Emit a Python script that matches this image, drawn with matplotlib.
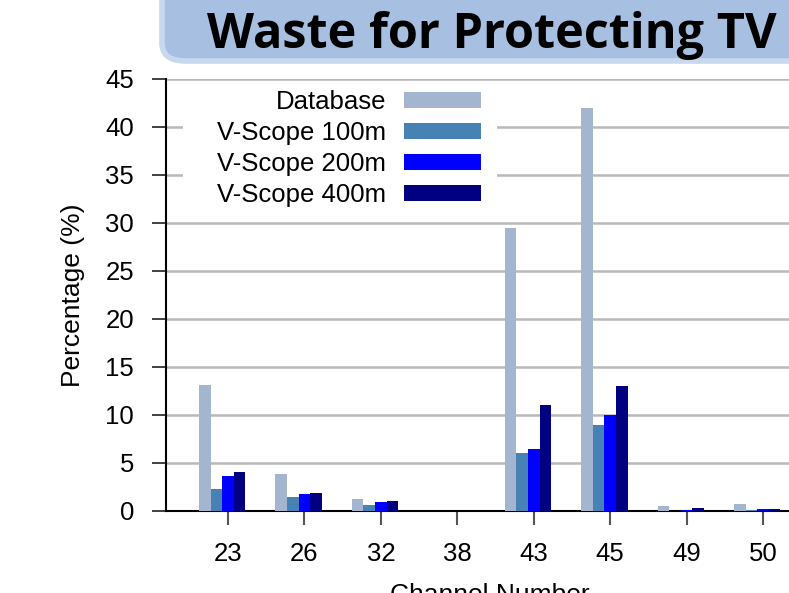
import matplotlib
matplotlib.use("Agg")
import matplotlib.pyplot as plt
import numpy as np
from matplotlib.patches import FancyBboxPatch, Rectangle

channels = ["23", "26", "32", "38", "43", "45", "49", "50"]
database = [13.1, 3.85, 1.3, 0.0, 29.5, 42.0, 0.55, 0.75]
vscope_100 = [2.3, 1.45, 0.65, 0.0, 6.0, 9.0, 0.05, 0.1]
vscope_200 = [3.6, 1.75, 0.9, 0.0, 6.5, 10.0, 0.15, 0.2]
vscope_400 = [4.1, 1.85, 1.07, 0.0, 11.0, 13.05, 0.35, 0.2]
series_names = ["Database", "V-Scope 100m", "V-Scope 200m", "V-Scope 400m"]
colors = ["#a3b5cf", "#4682b4", "#0000ff", "#000080"]

W, H = 789, 593
fig = plt.figure(figsize=(W / 100, H / 100), dpi=100)
plt.rcParams['font.family'] = ['Liberation Sans', 'DejaVu Sans']

# title box
box = FancyBboxPatch((162 / W, 1 - 61 / H), 700 / W, 120 / H,
                     boxstyle="round,pad=0,rounding_size=0.03",
                     transform=fig.transFigure, facecolor="#a7bfe0",
                     edgecolor="#c9d8ec", linewidth=4, zorder=0)
fig.patches.append(box)
fig.text(492 / W, 1 - 36 / H, "Waste for Protecting TV", ha="center", va="center",
         fontsize=35, fontweight="bold", family=["Open Sans", "DejaVu Sans"])

unit = 76.43
x0 = 1 - 62 / unit
axw = (9 - x0) * unit
ax = fig.add_axes([166 / W, 82 / H, axw / W, 432 / H])
x = np.arange(1, len(channels) + 1)
w = 0.152
data = [database, vscope_100, vscope_200, vscope_400]
for i, (vals, name, c) in enumerate(zip(data, series_names, colors)):
    ax.bar(x + (i - 2) * w, vals, w, color=c, label=name, zorder=3)

ax.set_xlim(x0, 9)
ax.set_ylim(0, 45)
ax.set_yticks(np.arange(0, 46, 5))
ax.set_xticks(x)
ax.set_xticklabels(channels)
ax.yaxis.grid(True, color="#b8b8b8", linewidth=1.8, zorder=0)
ax.set_axisbelow(True)
for s in ["top", "right"]:
    ax.spines[s].set_visible(False)
ax.spines["left"].set_linewidth(1.5)
ax.spines["bottom"].set_linewidth(1.5)
ax.tick_params(axis="y", direction="out", length=10, width=1.3, color="#333333",
               labelsize=18.5, pad=13)
ax.tick_params(axis="x", direction="out", length=10, width=1.5, color="#555555",
               labelsize=18.5, pad=12.5)
ax.set_ylabel("Percentage (%)", fontsize=19)
ax.yaxis.set_label_coords((85 - 166) / axw, 0.5)
ax.set_xlabel("Channel Number", fontsize=19, va="top")
ax.xaxis.set_label_coords((490 - 166) / axw, (511 - 583) / 432)

# white legend background
ax.add_patch(Rectangle(((183 - 166) / axw, (511 - 199) / 432),
                       (497 - 183) / axw, (199 - 84) / 432,
                       transform=ax.transAxes, facecolor="white",
                       edgecolor="none", zorder=1))

leg = ax.legend(loc="upper right", bbox_to_anchor=((481 - 166) / axw, (511 - 90) / 432),
                frameon=False, markerfirst=False, fontsize=18.5,
                handlelength=3.0, handleheight=0.6, labelspacing=0.27,
                handletextpad=0.7, borderpad=0, borderaxespad=0)
for t in leg.get_texts():
    t.set_ha("right")
leg._legend_box.align = "right"

fig.savefig("out.png", dpi=100)
